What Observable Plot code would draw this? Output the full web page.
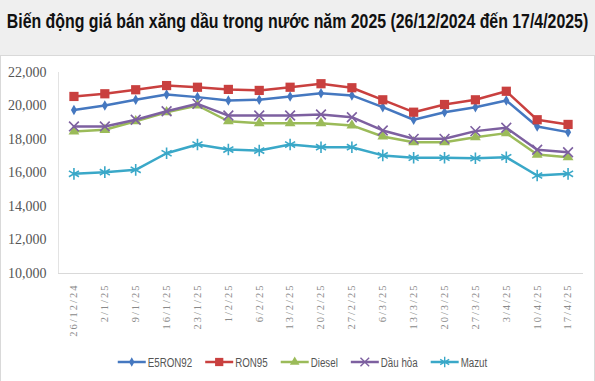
<!DOCTYPE html>
<html><head><meta charset="utf-8">
<script src="https://cdn.jsdelivr.net/npm/d3@7"></script>
<script src="https://cdn.jsdelivr.net/npm/@observablehq/plot@0.6"></script>
<style>
html,body{margin:0;padding:0;background:#efefef;width:595px;height:381px;overflow:hidden;font-family:"Liberation Sans",Arial,sans-serif}
#title{height:55px;}
#title svg{display:block}
#box{position:absolute;left:0;top:55px;width:593px;height:330px;background:#fff;border:1px solid #d9d9d9;}
#chart svg, #legend svg{display:block}
g[aria-label="x-axis tick label"] text{letter-spacing:2px}
</style></head><body>
<div id="title"></div>
<div id="box"><div id="chart"></div><div id="legend"></div></div>
<script>
const titleText = "Biến động giá bán xăng dầu trong nước năm 2025 (26/12/2024 đến 17/4/2025)";
const dates = ["26/12/24","2/1/25","9/1/25","16/1/25","23/1/25","1/2/25","6/2/25","13/2/25","20/2/25","27/2/25","6/3/25","13/3/25","20/3/25","27/3/25","3/4/25","10/4/25","17/4/25"];
const yTicks = [10000,12000,14000,16000,18000,20000,22000];
const e5ron92 = [19760,20030,20370,20690,20530,20330,20370,20570,20760,20630,19930,19180,19630,19930,20330,18780,18440];
const ron95   = [20570,20730,20970,21220,21120,20990,20930,21120,21330,21090,20370,19630,20090,20370,20880,19180,18900];
const diesel  = [18480,18580,19090,19630,20030,19090,18970,18970,18970,18840,18180,17840,17840,18140,18380,17100,16940];
const dauhoa  = [18780,18780,19180,19690,20130,19430,19430,19430,19490,19330,18540,18040,18040,18500,18700,17390,17240];
const mazut   = [15950,16050,16190,17180,17700,17400,17340,17700,17540,17540,17050,16910,16910,16880,16940,15850,15950];

const series = [
  {name:"E5RON92", values:e5ron92, color:"#4578c0", symbol:"diamond", r:3.2, filled:true},
  {name:"RON95", values:ron95, color:"#c9403f", symbol:"square", r:5.2, filled:true},
  {name:"Diesel", values:diesel, color:"#9bbb59", symbol:"triangle", r:4, filled:true},
  {name:"Dầu hỏa", values:dauhoa, color:"#7d60a0", symbol:"times", r:4.5, filled:false},
  {name:"Mazut", values:mazut, color:"#3aa8c8", symbol:"asterisk", r:5.5, filled:false}
];

// Title (condensed by horizontal scaling to fit)
{
  const svg = d3.select("#title").append("svg").attr("width",595).attr("height",55);
  const g = svg.append("g");
  const t = g.append("text").attr("x",0).attr("y",0).attr("text-anchor","middle")
    .attr("font-family","Liberation Sans, Arial, sans-serif").attr("font-weight","bold")
    .attr("font-size",20).attr("fill","#111").text(titleText);
  const w = t.node().getComputedTextLength();
  const k = Math.min(1, 582 / w);
  g.attr("transform",`translate(297.5,28) scale(${k},1)`);
}

const marks = [
  Plot.ruleY([10000], {stroke:"#d9d9d9"}),
  Plot.ruleX([-0.5], {stroke:"#e3e3e3"}),
  Plot.axisY({ticks:yTicks, tickFormat:d3.format(","), tickSize:0, tickPadding:12, fontSize:14, fontFamily:"Liberation Serif, serif", fill:"#555", label:null}),
  Plot.axisX({ticks:dates.map((d,i)=>i), tickFormat:i=>dates[i], tickSize:0, tickPadding:10, tickRotate:-90, fontSize:10.5, fontFamily:"Liberation Serif, serif", fill:"#8a8a8a", label:null})
];
for (const s of series) {
  const rows = s.values.map((v,i)=>({i, date:dates[i], value:v}));
  marks.push(Plot.line(rows, {x:"i", y:"value", stroke:s.color, strokeWidth:2.5}));
  marks.push(Plot.dot(rows, s.filled
    ? {x:"i", y:"value", symbol:()=>s.symbol, r:s.r, fill:s.color, stroke:"none"}
    : {x:"i", y:"value", symbol:()=>s.symbol, r:s.r, fill:"none", stroke:s.color, strokeWidth:1.6}));
}

const chart = Plot.plot({
  width:593, height:290, marginLeft:57, marginRight:11, marginTop:16, marginBottom:73,
  x:{type:"linear", domain:[-0.5, dates.length-0.5]},
  y:{domain:[10000,22000]},
  symbol:{type:"identity"},
  style:{background:"transparent", overflow:"visible"},
  marks
});
document.getElementById("chart").appendChild(chart);

// Legend
{
  const svg = d3.select("#legend").append("svg").attr("width",593).attr("height",35);
  const g = svg.append("g");
  const symMap = {diamond:d3.symbolDiamond, square:d3.symbolSquare, triangle:d3.symbolTriangle, times:d3.symbolTimes, asterisk:d3.symbolAsterisk};
  let x = 0;
  const cy = 16;
  for (const s of series) {
    g.append("line").attr("x1",x).attr("x2",x+28).attr("y1",cy).attr("y2",cy).attr("stroke",s.color).attr("stroke-width",2.5);
    const p = g.append("path").attr("transform",`translate(${x+14},${cy})`)
      .attr("d", d3.symbol(symMap[s.symbol], Math.PI*s.r*s.r*0.8)());
    if (s.filled) p.attr("fill",s.color); else p.attr("fill","none").attr("stroke",s.color).attr("stroke-width",1.4);
    const t = g.append("text").attr("x",x+30).attr("y",cy+4.5).attr("font-size",12.5)
      .attr("font-family","Liberation Sans, Arial, sans-serif").attr("fill","#555").text(s.name);
    const w = t.node().getComputedTextLength()*0.78;
    t.attr("textLength",w).attr("lengthAdjust","spacingAndGlyphs");
    x += 30 + w + 13;
  }
  const total = x - 13;
  g.attr("transform",`translate(${(593-total)/2+5},0)`);
}
</script>
</body></html>
